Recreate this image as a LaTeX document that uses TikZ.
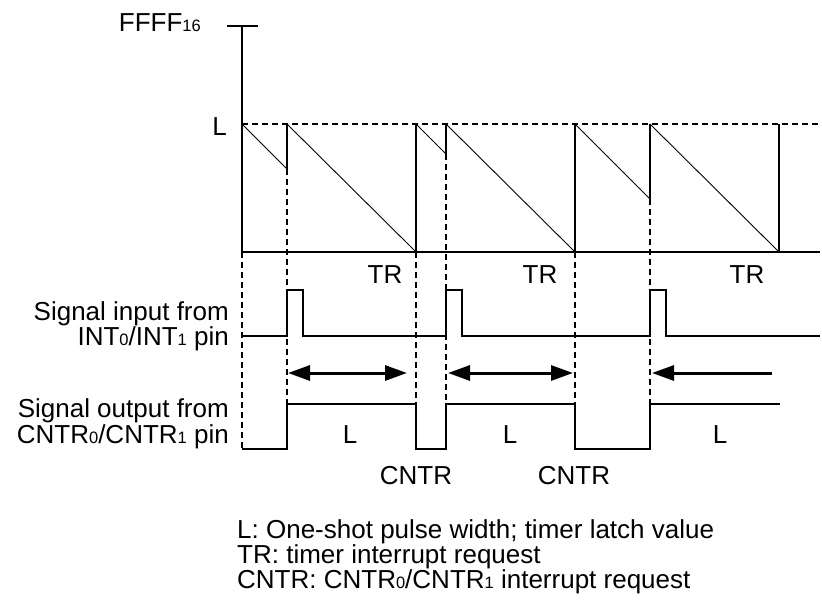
\documentclass[tikz,border=0pt]{standalone}
\usepackage{fontspec}
\setmainfont{Liberation Sans}
\usetikzlibrary{arrows.meta}

% small index digits sitting on the baseline
\newcommand{\pinidx}[1]{{\fontsize{16.5}{16.5}\selectfont #1}}

\tikzset{
  txt/.style={inner sep=0pt, font=\fontsize{26}{22}\selectfont},
  axis/.style={line width=2.5pt},
  wave/.style={line width=2.3pt},
  guide/.style={line width=1.8pt, dash pattern=on 6pt off 4pt},
  ramp/.style={line width=0.9pt},
  span/.style={line width=3pt},
}

\begin{document}
\begin{tikzpicture}[x=1pt, y=-1pt, >={Triangle[length=22pt,width=15pt]}]
    \useasboundingbox (0,0) rectangle (822,602);

    % =================================================================
    % PART 1: TIMER COUNT VALUE
    % =================================================================
    \begin{scope}
        % Dashed guides (drawn first so solid lines lie on top)
        \draw[guide] (242,124) -- (820,124);
        \draw[guide] (242,252) -- (242,449);
        \draw[guide] (287,169) -- (287,404);
        \draw[guide] (416,252) -- (416,404);
        \draw[guide] (446,154) -- (446,404);
        \draw[guide] (575,252) -- (575,404);
        \draw[guide] (650,199) -- (650,404);

        % Axis, top tick and zero line
        \draw[axis] (227,26) -- (258,26);
        \draw[axis] (242,26) -- (242,252) -- (820,252);

        % Count-down ramps
        \draw[ramp] (242,124) -- (287,169);
        \draw[ramp] (287,124) -- (416,252);
        \draw[ramp] (416,124) -- (446,154);
        \draw[ramp] (446,124) -- (575,252);
        \draw[ramp] (575,124) -- (650,199);
        \draw[ramp] (650,124) -- (779,252);

        % Reloads to the latch value
        \draw[axis] (287,169) -- (287,124);
        \draw[axis] (446,154) -- (446,124);
        \draw[axis] (650,199) -- (650,124);
        \foreach \x in {416,575,779} {
            \draw[axis] (\x,252) -- (\x,124);
        }

        % Levels and interrupt marks
        \node[txt, anchor=base east] (ffff) at (201,32) {FFFF\pinidx{16}};
        \node[txt, anchor=base east] (latch) at (227,135) {L};
        \foreach \x/\n in {385/1,540/2,747/3} {
            \node[txt, anchor=base] (tr\n) at (\x,283) {TR};
        }
    \end{scope}

    % =================================================================
    % PART 2: INPUT AND OUTPUT PINS
    % =================================================================
    \begin{scope}
        % Trigger pulses on INT pin
        \draw[wave] (242,336) -- (287,336) -- (287,290) -- (303,290) -- (303,336)
            -- (446,336) -- (446,290) -- (462,290) -- (462,336)
            -- (650,336) -- (650,290) -- (666,290) -- (666,336) -- (820,336);

        % One-shot output on CNTR pin
        \draw[wave] (242,449) -- (287,449) -- (287,404) -- (416,404) -- (416,449)
            -- (446,449) -- (446,404) -- (575,404) -- (575,449)
            -- (650,449) -- (650,404) -- (780,404);

        % Pulse width arrows
        \draw[span, <->] (288,373) -- (407,373);
        \draw[span, <->] (448,373) -- (573,373);
        \draw[span, <-] (652,373) -- (772,373);

        % Pin names
        \node[txt, anchor=north east, align=right] (inpin) at (229,301)
            {Signal input from\\INT\pinidx{0}/INT\pinidx{1} pin};
        \node[txt, anchor=north east, align=right, font=\fontsize{26}{26}\selectfont] (outpin) at (229,398)
            {Signal output from\\CNTR\pinidx{0}/CNTR\pinidx{1} pin};

        % Pulse widths and CNTR interrupts
        \foreach \x/\n in {350/1,510/2,720/3} {
            \node[txt, anchor=base] (wid\n) at (\x,443) {L};
        }
        \node[txt, anchor=base] (cntr1) at (416,484) {CNTR};
        \node[txt, anchor=base] (cntr2) at (574,484) {CNTR};
    \end{scope}

    % =================================================================
    % PART 3: LEGEND
    % =================================================================
    \node[txt, anchor=north west, align=left, font=\fontsize{26}{21}\selectfont] (key) at (237,519)
        {L: One-shot pulse width; timer latch value\\
         TR: timer interrupt request\\
         CNTR: CNTR\pinidx{0}/CNTR\pinidx{1} interrupt request};

\end{tikzpicture}
\end{document}
